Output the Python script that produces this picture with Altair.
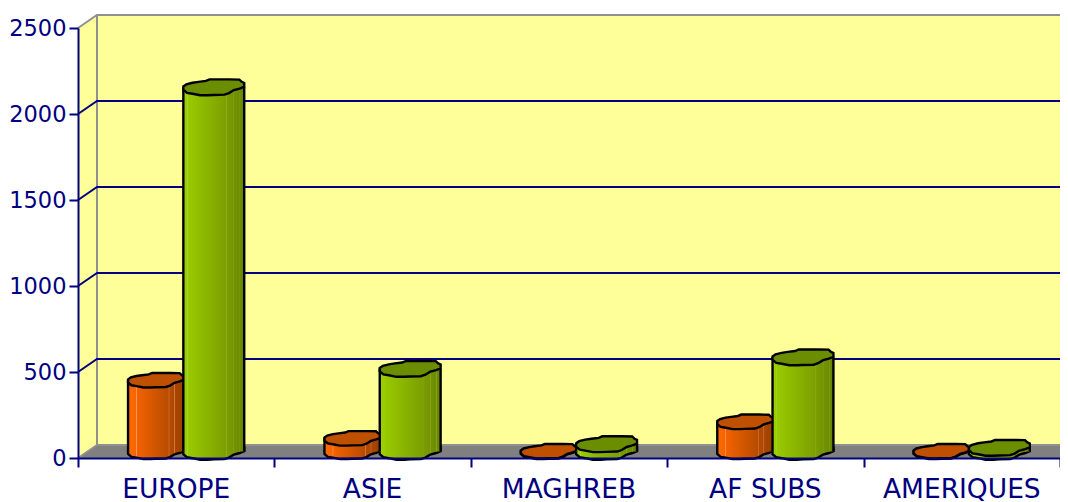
import altair as alt
import pandas as pd

categories = ["EUROPE", "ASIE", "MAGHREB", "AF SUBS", "AMERIQUES"]
series_orange = [416, 78, 3, 174, 3]
series_green = [2119, 482, 44, 549, 23]
y_ticks = [0, 500, 1000, 1500, 2000, 2500]
x_ticks = [0, 1, 2, 3, 4, 5]

NAVY = "#000080"
GRAY = "#909090"
WALL = "#FFFF99"
FONT = "DejaVu Sans"
Y_MAX = 2500
N = len(categories)
PLOT_W, PLOT_H = 982, 430
DX = 19 / (PLOT_W / N)              # depth of the 3D box, in category units
DY = 13 / PLOT_H * Y_MAX            # depth of the 3D box, in value units

xs = alt.Scale(domain=[0, N], nice=False, zero=False)
ys = alt.Scale(domain=[0, Y_MAX], nice=False, zero=False)

x_axis = alt.Axis(values=x_ticks, labels=False, grid=False, tickSize=9, tickWidth=2, tickColor=NAVY,
                  domainColor=NAVY, domainWidth=2, zindex=2, title=None)
y_axis = alt.Axis(values=y_ticks, grid=False, tickSize=9, tickWidth=2, tickColor=NAVY,
                  domainColor=NAVY, domainWidth=2, labelColor=NAVY, labelFont=FONT, labelFontSize=22.5,
                  labelPadding=3, zindex=2, title=None, format="d")


def X(field="x"):
    return alt.X(f"{field}:Q", scale=xs, axis=x_axis)


def Y(field="y"):
    return alt.Y(f"{field}:Q", scale=ys, axis=y_axis)


# --- box: floor, walls, gridlines
back = pd.DataFrame({"x": [DX], "x2": [N + DX], "y": [DY], "y2": [Y_MAX + DY]})
wall_back = alt.Chart(back).mark_rect(fill=WALL).encode(
    x=X(), x2="x2:Q", y=Y(), y2="y2:Q")

side = pd.DataFrame({"x": [0, DX], "y": [0, DY], "y2": [Y_MAX, Y_MAX + DY]})
wall_side = alt.Chart(side).mark_area(fill=WALL, orient="vertical").encode(
    x=X(), y=Y(), y2="y2:Q")

floor = pd.DataFrame({"x": [0, DX, N, N + DX], "y": [0, 0, 0, DY], "y2": [0, DY, DY, DY]})
floor_mark = alt.Chart(floor).mark_area(fill="#808080", orient="vertical").encode(
    x=X(), y=Y(), y2="y2:Q")

navy_rows, gray_rows = [], []
for v in y_ticks[1:-1]:
    navy_rows += [
        {"id": f"s{v}", "o": 0, "x": 0, "y": v},
        {"id": f"s{v}", "o": 1, "x": DX, "y": v + DY},
        {"id": f"s{v}", "o": 2, "x": N + DX, "y": v + DY},
    ]
gray_rows += [
    {"id": "top", "o": 0, "x": 0, "y": Y_MAX},
    {"id": "top", "o": 1, "x": DX, "y": Y_MAX + DY},
    {"id": "top", "o": 2, "x": N + DX, "y": Y_MAX + DY},
    {"id": "back", "o": 0, "x": DX, "y": Y_MAX + DY},
    {"id": "back", "o": 1, "x": DX, "y": DY},
    {"id": "back", "o": 2, "x": N + DX, "y": DY},
    {"id": "left", "o": 0, "x": 0, "y": 0},
    {"id": "left", "o": 1, "x": DX, "y": DY},
]
lines_gray = alt.Chart(pd.DataFrame(gray_rows)).mark_line(color=GRAY, strokeWidth=2).encode(
    x=X(), y=Y(), detail="id:N", order="o:Q")
lines_navy = alt.Chart(pd.DataFrame(navy_rows)).mark_line(color=NAVY, strokeWidth=2).encode(
    x=X(), y=Y(), detail="id:N", order="o:Q")

# --- cylinders
CAP = ("M-1,-.02 L-.9,-.09 L-.7,-.14 L-.5,-.17 L-.26,-.2 L-.14,-.25 L.04,-.25 L.5,-.25 "
       "L.84,-.245 L.92,-.17 L1,-.135 L1,-.01 L.85,.05 L.66,.1 L.5,.2 L.35,.25 L0,.26 "
       "L-.2,.27 L-.45,.27 L-.7,.22 L-.88,.19 L-1,.09 Z")


def gradient(stops):
    return alt.Gradient(
        gradient="linear", x1=0, x2=1, y1=0, y2=0,
        stops=[alt.GradientStop(color=c, offset=o) for o, c in stops],
    )


orange_stops = [(0, "#FF6A00"), (.14, "#F56400"), (.15, "#FF9A50"), (.165, "#F26200"),
                (.72, "#B84C00"), (.73, "#DC8040"), (.745, "#B44A00"), (.82, "#AE4800"),
                (.83, "#CC7840"), (.845, "#AA4600"), (1, "#994000")]
green_stops = [(0, "#9FD000"), (.06, "#99CC00"), (.07, "#ACD830"), (.08, "#98CA00"),
               (.7, "#7C9F00"), (.71, "#90AE20"), (.72, "#7A9D00"), (.82, "#739500"),
               (.83, "#90AC30"), (.84, "#729300"), (.92, "#6D8D00"), (.93, "#8CA630"),
               (.94, "#6B8B00"), (1, "#628300")]


def cylinder(values, offset, half, stops, top_color):
    df = pd.DataFrame({
        "category": categories,
        "value": values,
        "cx": [i + .5 + DX / 2 + offset for i in range(N)],
    })
    df["left"] = df["cx"] - half
    df["right"] = df["cx"] + half
    df["base"] = DY / 2
    df["top"] = df["value"] + DY / 2
    size = (2 * half * PLOT_W / N) ** 2
    fill = gradient(stops)
    base = alt.Chart(df)
    bottom = base.mark_point(shape=CAP, size=size, filled=True, fill=fill, stroke="black",
                             strokeWidth=2.4, opacity=1).encode(x=X("cx"), y=Y("base"))
    body = base.mark_rect(fill=fill).encode(x=X("left"), x2="right:Q", y=Y("base"), y2="top:Q")
    edge_l = base.mark_rule(color="black", strokeWidth=2.4).encode(x=X("left"), y=Y("base"), y2="top:Q")
    edge_r = base.mark_rule(color="black", strokeWidth=2.4).encode(x=X("right"), y=Y("base"), y2="top:Q")
    cap = base.mark_point(shape=CAP, size=size, filled=True, fill=top_color, stroke="black",
                          strokeWidth=2.4, opacity=1).encode(x=X("cx"), y=Y("top"))
    return [bottom, body, edge_l, edge_r, cap]


orange = cylinder(series_orange, -.151, .1425, orange_stops, "#BF5000")
green = cylinder(series_green, .143, .155, green_stops, "#6B8E00")

labels_df = pd.DataFrame({"category": categories,
                          "x": [i + .5 for i in range(N)],
                          "y": [0] * N})
labels = alt.Chart(labels_df).mark_text(
    font=FONT, fontSize=26.5, color=NAVY, baseline="middle", align="center", dy=31.5
).encode(x=X(), y=Y(), text="category:N")

chart = alt.layer(
    wall_back, wall_side, floor_mark, lines_gray, lines_navy,
    *orange, *green, labels,
).properties(
    width=PLOT_W, height=PLOT_H,
    autosize=alt.AutoSizeParams(type="none"),
    padding={"left": 70, "top": 20, "right": 0, "bottom": 44},
    background="white",
).configure_view(stroke=None)

chart.save("out.html", embed_options={"renderer": "svg", "actions": False})
